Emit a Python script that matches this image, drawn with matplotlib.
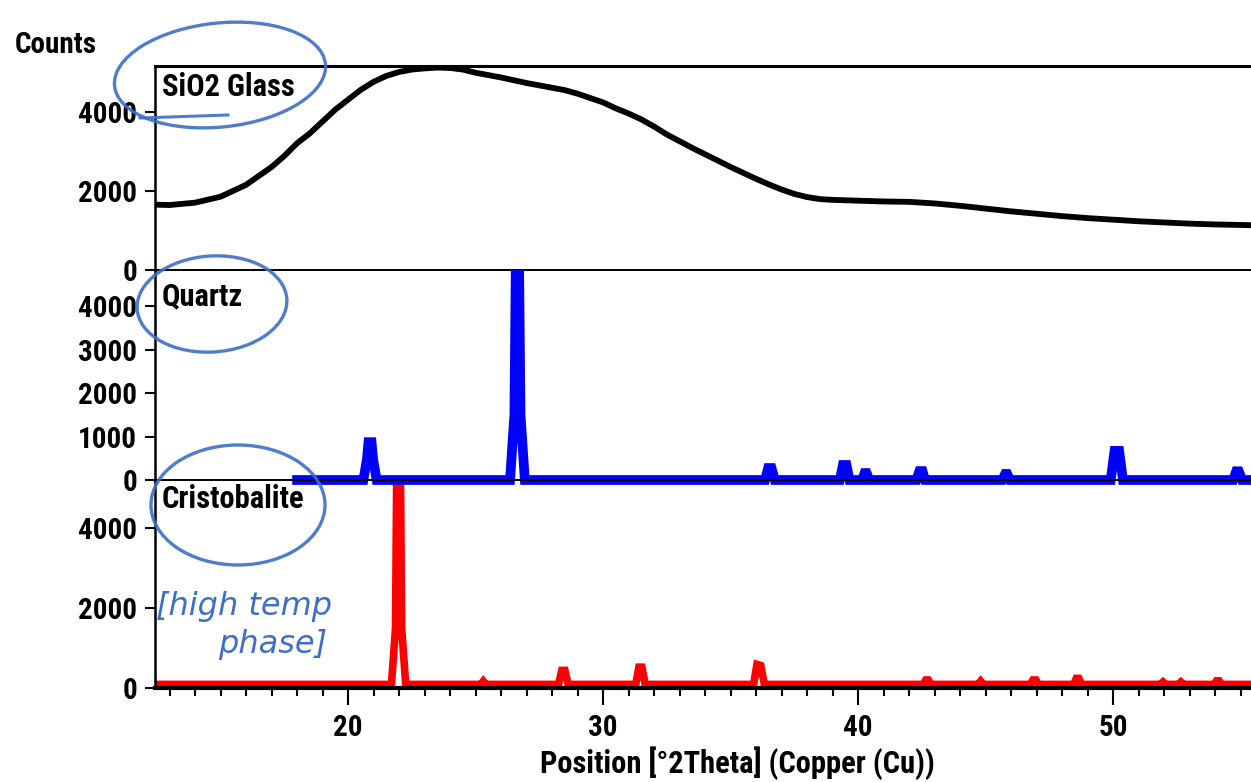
import matplotlib.pyplot as plt
from matplotlib import font_manager
from matplotlib.patches import Ellipse, Rectangle
from matplotlib.ticker import MultipleLocator

# amorphous SiO2 glass - broad hump
glass_2theta = [12.4, 13.0, 14.0, 15.0, 16.0, 17.0, 17.5, 18.0, 18.5, 19.0, 19.5,
                20.0, 20.5, 21.0, 21.5, 22.0, 22.5, 23.0, 23.5, 24.0, 24.5, 25.0,
                25.5, 26.0, 26.5, 27.0, 27.5, 28.0, 28.5, 29.0, 29.5, 30.0, 30.5,
                31.0, 31.5, 32.0, 32.5, 33.0, 33.5, 34.0, 34.5, 35.0, 35.5, 36.0,
                36.5, 37.0, 37.5, 38.0, 38.5, 39.0, 40.0, 41.0, 42.0, 43.0, 44.0,
                45.0, 46.0, 47.0, 48.0, 49.0, 50.0, 51.0, 52.0, 53.0, 54.0, 55.5]
glass_counts = [1650, 1640, 1700, 1850, 2150, 2600, 2880, 3200, 3450, 3750, 4050,
                4300, 4550, 4750, 4900, 5000, 5060, 5090, 5110, 5100, 5060, 4980,
                4920, 4860, 4790, 4720, 4660, 4600, 4540, 4450, 4340, 4230, 4080,
                3950, 3800, 3620, 3420, 3250, 3080, 2920, 2760, 2600, 2450, 2300,
                2160, 2030, 1920, 1840, 1790, 1770, 1750, 1730, 1720, 1680, 1620,
                1550, 1480, 1420, 1360, 1310, 1270, 1230, 1200, 1170, 1150, 1130]

# quartz pattern
quartz_2theta = [18.0, 20.60, 20.74, 20.80, 20.92, 20.98, 21.12,
                 26.35, 26.52, 26.60, 26.68, 26.76, 26.93,
                 36.35, 36.47, 36.60, 36.73,
                 39.28, 39.40, 39.54, 39.66,
                 40.15, 40.25, 40.33, 40.43,
                 42.28, 42.40, 42.52, 42.62,
                 45.65, 45.76, 45.84, 45.95,
                 49.90, 50.05, 50.23, 50.38,
                 54.70, 54.82, 54.92, 55.05, 55.5]
quartz_counts = [0, 0, 480, 870, 870, 480, 0,
                 0, 1500, 6500, 6500, 1500, 0,
                 0, 275, 275, 0,
                 0, 345, 345, 0,
                 0, 160, 160, 0,
                 0, 205, 205, 0,
                 0, 140, 140, 0,
                 0, 670, 670, 0,
                 0, 200, 200, 0, 0]

# cristobalite pattern
cristo_2theta = [12.4, 21.70, 21.86, 21.94, 22.02, 22.10, 22.26,
                 25.20, 25.30, 25.40,
                 28.25, 28.38, 28.50, 28.63,
                 31.28, 31.40, 31.52, 31.65,
                 35.90, 36.03, 36.18, 36.32,
                 42.55, 42.65, 42.75, 42.85,
                 44.70, 44.80, 44.90,
                 46.75, 46.85, 46.97, 47.07,
                 48.45, 48.55, 48.65, 48.75,
                 51.85, 51.95, 52.05,
                 52.55, 52.65, 52.75,
                 53.95, 54.05, 54.15, 54.25, 55.5]
cristo_counts = [90, 90, 1500, 8000, 8000, 1500, 90,
                 90, 170, 90,
                 90, 440, 440, 90,
                 90, 520, 520, 90,
                 90, 590, 560, 90,
                 90, 200, 200, 90,
                 90, 170, 90,
                 90, 200, 200, 90,
                 90, 240, 240, 90,
                 90, 150, 90,
                 90, 150, 90,
                 90, 180, 180, 90, 90]

x_ticks = [20, 30, 40, 50]


# a narrow bold sans if one is installed, otherwise plain Liberation Sans
def pick_font():
    fonts = font_manager.fontManager.ttflist
    names = {f.name for f in fonts}
    for name in ('Liberation Sans Narrow', 'Roboto Condensed',
                 'Open Sans Condensed', 'Noto Sans Condensed',
                 'DejaVu Sans Condensed'):
        if name in names:
            return name, 'normal', 1.0
    for name in ('Noto Sans', 'Open Sans', 'Roboto', 'DejaVu Sans', 'Lato'):
        for f in fonts:
            if f.name == name and f.stretch in ('condensed', 'semi-condensed',
                                                'extra-condensed'):
                return name, f.stretch, 0.97
    return 'Liberation Sans', 'normal', 0.86


family, stretch, scale = pick_font()
plt.rcParams['font.family'] = [family, 'DejaVu Sans']
plt.rcParams['font.stretch'] = stretch
plt.rcParams['font.weight'] = 'bold'
tick_size = 21 * scale
label_size = 22 * scale

W, H = 1251, 782
fig = plt.figure(figsize=(W / 100, H / 100), dpi=100)


def box(top, bottom):
    return [155 / W, (H - bottom) / H, 1 - 155 / W, (bottom - top) / H]


ax_top = fig.add_axes(box(66, 270))
ax_bot = fig.add_axes(box(480, 688))
ax_mid = fig.add_axes(box(270, 480))   # on top so the blue baseline covers the red peak

for ax in (ax_top, ax_mid, ax_bot):
    ax.set_xlim(12.43, 55.4)
    ax.set_facecolor('none')
    ax.spines['right'].set_visible(False)
    ax.spines['top'].set_visible(False)
    ax.spines['left'].set_linewidth(1.8)
    ax.spines['bottom'].set_linewidth(1.4)
    ax.tick_params(axis='y', direction='out', length=7, width=1.5,
                   labelsize=tick_size, pad=6)
    ax.tick_params(axis='x', which='both', bottom=False, labelbottom=False)

ax_top.spines['top'].set_visible(True)
ax_top.spines['top'].set_linewidth(2.2)
ax_bot.spines['bottom'].set_linewidth(3)

ax_top.set_ylim(0, 5150)
ax_top.set_yticks([0, 2000, 4000])
ax_mid.set_ylim(0, 4830)
ax_mid.set_yticks([0, 1000, 2000, 3000, 4000])
ax_bot.set_ylim(0, 5200)
ax_bot.set_yticks([0, 2000, 4000])

ax_bot.set_xticks(x_ticks)
ax_bot.xaxis.set_minor_locator(MultipleLocator(1))
ax_bot.tick_params(axis='x', which='both', bottom=True, labelbottom=True,
                   direction='out', width=1.5, labelsize=tick_size)
ax_bot.tick_params(axis='x', which='major', length=12, pad=7)
ax_bot.tick_params(axis='x', which='minor', length=6)

ax_top.plot(glass_2theta, glass_counts, color='black', lw=4.2)
ax_bot.plot(cristo_2theta, cristo_counts, color='#ff0000', lw=5.5,
            solid_joinstyle='miter')
q_line, = ax_mid.plot(quartz_2theta, quartz_counts, color='#0000ff', lw=7,
                      solid_joinstyle='miter')
# let the thick baseline spill a little below the panel edge
clip = Rectangle((0, -0.04), 1, 1.04, transform=ax_mid.transAxes,
                 facecolor='none', edgecolor='none')
ax_mid.add_patch(clip)
q_line.set_clip_path(clip)

fig.text(15 / W, 1 - 45 / H, 'Counts', fontsize=tick_size, va='center',
         ha='left')
fig.text(737 / W, 1 - 763 / H, 'Position [°2Theta] (Copper (Cu))',
         fontsize=label_size, va='center', ha='center')

# overlay in pixel coordinates for panel names and pen marks
ov = fig.add_axes([0, 0, 1, 1], zorder=10)
ov.set_xlim(0, W)
ov.set_ylim(H, 0)
ov.axis('off')
ov.set_facecolor('none')

for label, y in (('SiO2 Glass', 87), ('Quartz', 296), ('Cristobalite', 499)):
    ov.text(162, y, label, fontsize=label_size, va='center', ha='left')

pen = '#3d6fc6'
ov.add_patch(Ellipse((220, 75), 212, 104, angle=-6, fill=False,
                     edgecolor=pen, lw=2.4, alpha=0.9))
ov.plot([140, 228], [118, 115], color=pen, lw=2.2, alpha=0.9)
ov.add_patch(Ellipse((212, 304), 150, 96, angle=-4, fill=False,
                     edgecolor=pen, lw=2.4, alpha=0.9))
ov.add_patch(Ellipse((238, 505), 174, 120, angle=0, fill=False,
                     edgecolor=pen, lw=2.4, alpha=0.9))
ov.text(156, 606, '[high temp', fontsize=23, color=pen, va='center',
        ha='left', family=['DejaVu Sans'], weight='light', style='italic',
        stretch='normal')
ov.text(218, 644, 'phase]', fontsize=23, color=pen, va='center',
        ha='left', family=['DejaVu Sans'], weight='light', style='italic',
        stretch='normal')

fig.savefig('out.png', dpi=100)
